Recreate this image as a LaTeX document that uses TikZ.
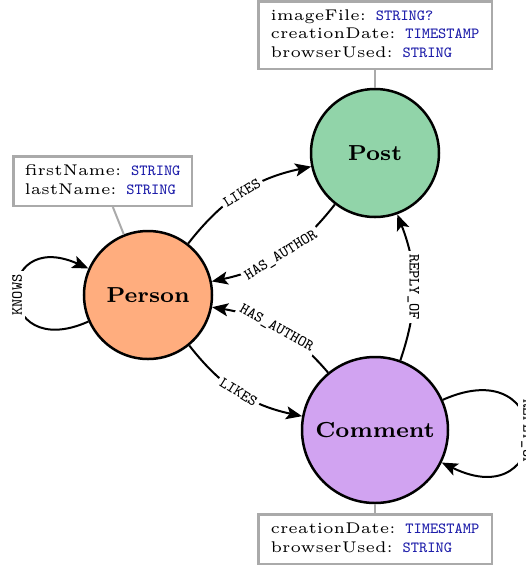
\documentclass[tikz,border=0pt]{standalone}
\usepackage{graphicx}
\usetikzlibrary{arrows.meta}
\definecolor{personc}{RGB}{255,173,126}
\definecolor{postc}{RGB}{145,212,169}
\definecolor{commentc}{RGB}{209,163,241}
\definecolor{typec}{RGB}{30,30,170}
\definecolor{propgray}{RGB}{170,170,170}
\newcommand{\sfac}{1.55}
\newcommand{\typ}[1]{\textcolor{typec}{\texttt{#1}}}
\newcommand{\entlbl}[1]{\scalebox{\sfac}{\scriptsize\bfseries #1}}
\newcommand{\rellbl}[1]{\scalebox{\sfac}{\tiny\ttfamily #1}}
\newcommand{\props}[1]{\scalebox{\sfac}{\tiny\begin{tabular}{@{}l@{}}#1\end{tabular}}}
\begin{document}
\begin{tikzpicture}[x=0.5pt,y=0.5pt,
  ent/.style={circle, draw=black, line width=1.25pt, inner sep=0pt},
  propbox/.style={draw=propgray, line width=1.25pt, fill=white, inner sep=0pt},
  conn/.style={draw=propgray, line width=1pt},
  rel/.style={draw=black, line width=1pt, -{Stealth[length=8pt,width=6.5pt,inset=1.8pt]}},
  elbl/.style={fill=white, inner sep=1.5pt}]
\useasboundingbox (0,0) rectangle (526,-569);
% entities
\node[ent, fill=personc, minimum size=64pt] (person) at (148,-295) {\entlbl{Person}};
\node[ent, fill=postc, minimum size=64pt] (post) at (375,-153) {\entlbl{Post}};
\node[ent, fill=commentc, minimum size=73pt] (comment) at (375,-430) {\entlbl{Comment}};
% property boxes
\node[propbox, minimum width=116.75pt, minimum height=33.75pt] (postprops) at (375,-35)
  {\props{imageFile: \typ{STRING?}\\creationDate: \typ{TIMESTAMP}\\browserUsed: \typ{STRING}}};
\node[propbox, minimum width=89.25pt, minimum height=24.75pt] (personprops) at (102.5,-181)
  {\props{firstName: \typ{STRING}\\lastName: \typ{STRING}}};
\node[propbox, minimum width=116.75pt, minimum height=24.75pt] (commentprops) at (375,-539)
  {\props{creationDate: \typ{TIMESTAMP}\\browserUsed: \typ{STRING}}};
\draw[conn] (postprops) -- (post);
\draw[conn] (personprops) -- (person);
\draw[conn] (commentprops) -- (comment);
% relationships
\draw[rel] (person) to[bend left=20] node[elbl, sloped] {\rellbl{LIKES}} (post);
\draw[rel] (post) to[bend left=20] node[elbl, sloped] {\rellbl{HAS\_AUTHOR}} (person);
\draw[rel] (comment) to[bend right=20] node[elbl, sloped] {\rellbl{HAS\_AUTHOR}} (person);
\draw[rel] (person) to[bend right=20] node[elbl, sloped] {\rellbl{LIKES}} (comment);
\draw[rel] (comment) to[bend right=20] node[elbl, rotate=-90] {\rellbl{REPLY\_OF}} (post);
\draw[rel] (person.204) .. controls +(204:104) and +(156:104) .. node[midway, elbl, rotate=90] {\rellbl{KNOWS}} (person.156);
\draw[rel] (comment.24) .. controls +(24:125) and +(-26:125) .. node[midway, elbl, rotate=-90] {\rellbl{REPLY\_OF}} (comment.-26);
\end{tikzpicture}
\end{document}
